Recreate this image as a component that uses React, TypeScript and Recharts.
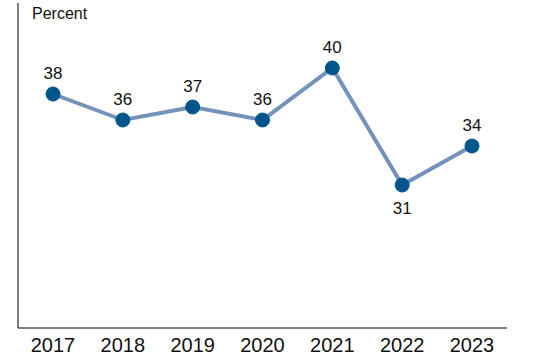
import { CartesianGrid, LabelList, Line, LineChart, XAxis, YAxis } from "recharts";

const years = ["2017", "2018", "2019", "2020", "2021", "2022", "2023"];
const percent = [38, 36, 37, 36, 40, 31, 34];
// labels drawn below the point instead of above
const labelBelow = ["2022"];

const data = years.map((year, i) => ({ year, value: percent[i] }));

const FONT = "'Liberation Sans Narrow', 'Liberation Sans', Arial, sans-serif";

function PointLabel(props: any) {
  const { x, y, value, index } = props;
  const below = labelBelow.includes(years[index]);
  return (
    <text
      x={x}
      y={below ? y + 29 : y - 15}
      textAnchor="middle"
      fontSize={17}
      fontFamily={FONT}
      fill="#111"
    >
      {value}
    </text>
  );
}

export default function App() {
  return (
    <div style={{ position: "absolute", left: 0, top: 0, width: 535, height: 357, background: "#fff" }}>
      <div
        style={{
          position: "absolute",
          left: 32,
          top: 5,
          fontFamily: FONT,
          fontSize: 16,
          color: "#111",
        }}
      >
        Percent
      </div>
      <LineChart width={535} height={357} data={data} margin={{ top: 3, right: 28, left: 0, bottom: 0 }}>
        <CartesianGrid horizontal={false} vertical={false} />
        <XAxis
          dataKey="year"
          padding={{ left: 35, right: 35 }}
          tickLine={false}
          axisLine={{ stroke: "#000", strokeWidth: 1 }}
          tick={{ fontSize: 20, fontFamily: FONT, fill: "#111" }}
          height={29}
          tickMargin={4}
        />
        <YAxis
          domain={[20, 45]}
          width={18}
          tick={false}
          tickLine={false}
          axisLine={{ stroke: "#000", strokeWidth: 1 }}
        />
        <Line
          type="linear"
          dataKey="value"
          stroke="#7593ba"
          strokeWidth={4}
          dot={{ r: 7, fill: "#00558c", stroke: "#00558c", strokeWidth: 1 }}
          activeDot={false}
          isAnimationActive={false}
        >
          <LabelList dataKey="value" content={<PointLabel />} />
        </Line>
      </LineChart>
    </div>
  );
}
